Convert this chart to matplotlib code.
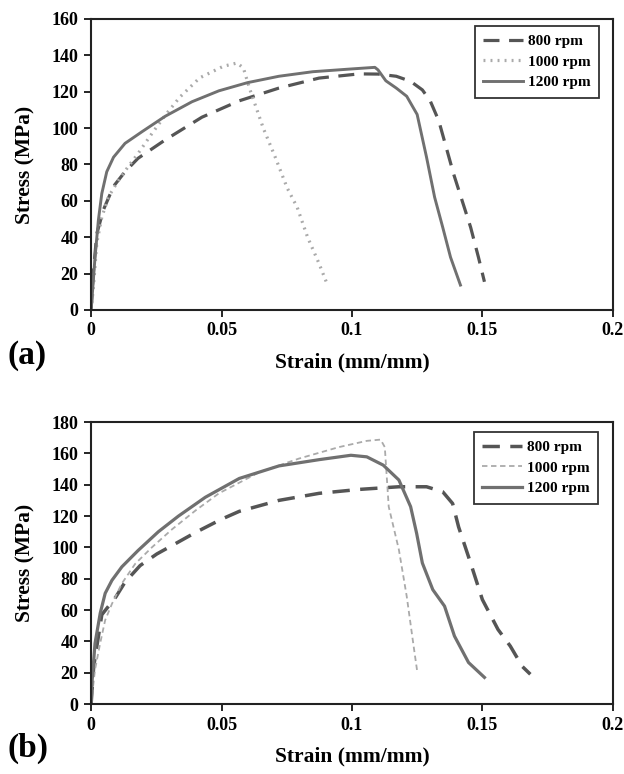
import numpy as np
import matplotlib.pyplot as plt

plt.rcParams['font.family'] = ['Liberation Serif', 'DejaVu Serif']
plt.rcParams['font.weight'] = 'bold'

# ---- panel (a) ----
a800_x = [0, 0.0008, 0.0022, 0.0047, 0.0086, 0.013, 0.018, 0.0284, 0.0425, 0.0568, 0.072,
          0.0874, 0.1027, 0.110, 0.117, 0.1225, 0.127, 0.130, 0.1333, 0.139, 0.1455,
          0.1485, 0.1508]
a800_y = [0, 20, 42, 55, 68, 76, 83.4, 93.5, 106, 115, 122,
          127.5, 129.8, 129.7, 128.5, 125.7, 121, 115, 104, 74.7, 45.5,
          29, 15.5]

a1000_x = [0, 0.0009, 0.0022, 0.0041, 0.0066, 0.0099, 0.0143, 0.018, 0.0233, 0.0284,
           0.034, 0.0416, 0.0507, 0.056, 0.0584, 0.0607, 0.066, 0.0706, 0.0752, 0.079,
           0.083, 0.0874, 0.0904]
a1000_y = [0, 12.8, 37, 51, 62, 70, 79, 86, 97, 107,
           117, 127.6, 134, 135.8, 133, 122, 100, 84, 67, 56.5,
           40, 25.5, 14.6]

a1200_x = [0, 0.0003, 0.0015, 0.0028, 0.0041, 0.006, 0.0086, 0.013, 0.0195, 0.0284,
           0.0387, 0.049, 0.06, 0.072, 0.085, 0.0996, 0.1088, 0.110, 0.113, 0.117,
           0.121, 0.125, 0.1286, 0.1317, 0.1348, 0.1378, 0.1416]
a1200_y = [0, 5.5, 29, 49.5, 64, 76, 84, 91.6, 98, 106.5,
           114.5, 120.5, 125, 128.5, 131, 132.5, 133.4, 132, 126, 122,
           117.5, 107.5, 84, 62, 45.5, 29, 13.7]

# ---- panel (b) ----
b800_x = [0, 0.001, 0.0041, 0.0095, 0.013, 0.0188, 0.0252, 0.0316, 0.04, 0.05, 0.0568,
          0.072, 0.0874, 0.1027, 0.118, 0.1286, 0.1348, 0.1386, 0.1409, 0.1455, 0.150,
          0.156, 0.1607, 0.1653, 0.1684]
b800_y = [0, 24, 57, 68.4, 77.8, 88.4, 95.8, 101.7, 109.5, 118, 123,
          130, 134.5, 137, 138.7, 138.7, 135.5, 128, 113, 90, 66.7,
          47.6, 37, 24, 19]

b1000_x = [0, 0.0015, 0.0035, 0.0054, 0.008, 0.0118, 0.0169, 0.0233, 0.031, 0.04,
           0.049, 0.0645, 0.0797, 0.095, 0.1057, 0.111, 0.1126, 0.1141, 0.118, 0.121,
           0.124, 0.1251]
b1000_y = [0, 22, 39, 53.6, 64, 77, 89.5, 100, 111.5, 123.5,
           134.5, 148, 156.7, 164, 168, 168.8, 164, 126, 98.5, 68.8,
           32.8, 20]

b1200_x = [0, 0.0003, 0.0015, 0.0035, 0.0054, 0.008, 0.0118, 0.018, 0.0258, 0.0335,
           0.0438, 0.0568, 0.072, 0.0874, 0.0996, 0.1057, 0.112, 0.118, 0.1225, 0.1248,
           0.127, 0.131, 0.1355, 0.1393, 0.1447, 0.1508]
b1200_y = [0, 13, 38.7, 58, 70.7, 79, 87.6, 98, 110, 120,
           132, 144, 152, 156, 158.8, 157.8, 152.5, 143, 126, 109,
           90, 73, 62.5, 43.4, 26.5, 17]

labels = ['800 rpm', '1000 rpm', '1200 rpm']

fig = plt.figure(figsize=(6.24, 7.74), dpi=100)
ax1 = fig.add_axes([0.146, 0.5995, 0.836, 0.376])
ax2 = fig.add_axes([0.146, 0.0904, 0.836, 0.3643])


def style(ax, ymax, ystep, leg_anchor):
    ax.set_xlim(0, 0.2)
    ax.set_ylim(0, ymax)
    ax.set_xticks([0, 0.05, 0.1, 0.15, 0.2])
    ax.set_xticklabels(['0', '0.05', '0.1', '0.15', '0.2'])
    ax.set_yticks(np.arange(0, ymax + 1, ystep))
    ax.tick_params(direction='out', length=5, width=1.2, labelsize=13, pad=4)
    for s in ax.spines.values():
        s.set_linewidth(1.5)
        s.set_color('#222222')
    ax.set_xlabel('Strain (mm/mm)', fontsize=15.5, fontweight='bold', labelpad=9)
    ax.set_ylabel('Stress (MPa)', fontsize=15.5, fontweight='bold', labelpad=12)
    leg = ax.legend(loc='upper right', bbox_to_anchor=leg_anchor, borderaxespad=0,
                    fancybox=False, framealpha=1, edgecolor='#333333',
                    handlelength=2.6, handletextpad=0.3, borderpad=0.55,
                    labelspacing=0.45, prop={'weight': 'bold', 'size': 11})
    leg.get_frame().set_linewidth(1.3)


ax1.plot(a800_x, a800_y, color='#555555', lw=2.3, ls=(0, (5, 3)), label=labels[0])
ax1.plot(a1000_x, a1000_y, color='#aaaaaa', lw=2.3, ls=(0, (0.6, 1.6)), label=labels[1])
ax1.plot(a1200_x, a1200_y, color='#707070', lw=2.1, ls='-', label=labels[2])
style(ax1, 160, 20, (0.973, 0.976))

ax2.plot(b800_x, b800_y, color='#555555', lw=2.5, ls=(0, (5, 3)), label=labels[0])
ax2.plot(b1000_x, b1000_y, color='#aaaaaa', lw=1.3, ls=(0, (3, 2)), label=labels[1])
ax2.plot(b1200_x, b1200_y, color='#707070', lw=2.3, ls='-', label=labels[2])
style(ax2, 180, 20, (0.971, 0.9645))

fig.text(0.012, 1 - 355 / 774, '(a)', fontsize=24, fontweight='bold', va='center')
fig.text(0.012, 1 - 748 / 774, '(b)', fontsize=24, fontweight='bold', va='center')

fig.savefig('out.png', dpi=100)
